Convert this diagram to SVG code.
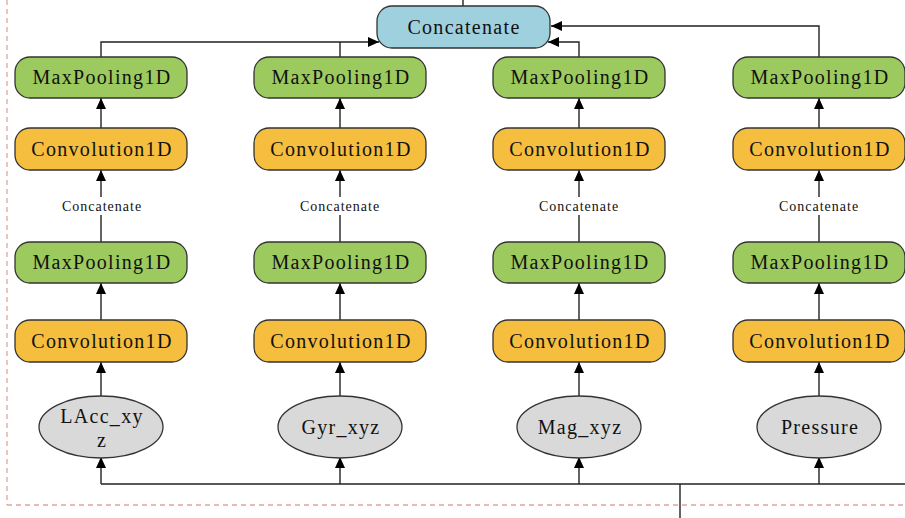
<svg xmlns="http://www.w3.org/2000/svg" width="905" height="518" viewBox="0 0 905 518">
  <defs>
    <marker id="arr" viewBox="0 0 11 10" refX="11" refY="5" markerWidth="11" markerHeight="10" markerUnits="userSpaceOnUse" orient="auto">
      <path d="M0,0 L11,5 L0,10 Z" fill="#000"/>
    </marker>
    <style>
      .box { stroke: #333; stroke-width: 1.3; }
      .pool { fill: #9cca5e; }
      .conv { fill: #f5be3e; }
      .cat { fill: #9fd0de; }
      .in { fill: #d9d9d9; stroke: #333; stroke-width: 1.3; }
      .lbl { font-family: "Liberation Serif", "Times New Roman", serif; font-size: 20px; letter-spacing: 1.3px; fill: #111; text-anchor: middle; }
      .small { font-family: "Liberation Serif", "Times New Roman", serif; font-size: 14px; letter-spacing: 1px; fill: #111; text-anchor: middle; }
      .wire { fill: none; stroke: #222; stroke-width: 1.4; }
      .frame { fill: none; stroke: #e4a3a3; stroke-width: 1.3; stroke-dasharray: 5 4; }
    </style>
  </defs>

  <!-- dashed frame -->
  <line class="frame" x1="7" y1="0" x2="7" y2="505"/>
  <line class="frame" x1="7" y1="505" x2="905" y2="505"/>

  <g id="connectors">
    <!-- feed line under the inputs -->
    <line class="wire" x1="101" y1="484" x2="905" y2="484"/>
    <line class="wire" x1="680" y1="484" x2="680" y2="518" stroke-width="2"/>
    <line class="wire" x1="463" y1="0" x2="463" y2="6"/>

    <!-- column 1 -->
    <line class="wire" x1="101" y1="484" x2="101" y2="457" marker-end="url(#arr)"/>
    <line class="wire" x1="101" y1="396" x2="101" y2="362" marker-end="url(#arr)"/>
    <line class="wire" x1="101" y1="320" x2="101" y2="283" marker-end="url(#arr)"/>
    <line class="wire" x1="101" y1="242" x2="101" y2="170" marker-end="url(#arr)"/>
    <line class="wire" x1="101" y1="128" x2="101" y2="98" marker-end="url(#arr)"/>
    <!-- column 2 -->
    <line class="wire" x1="340" y1="484" x2="340" y2="457" marker-end="url(#arr)"/>
    <line class="wire" x1="340" y1="396" x2="340" y2="362" marker-end="url(#arr)"/>
    <line class="wire" x1="340" y1="320" x2="340" y2="283" marker-end="url(#arr)"/>
    <line class="wire" x1="340" y1="242" x2="340" y2="170" marker-end="url(#arr)"/>
    <line class="wire" x1="340" y1="128" x2="340" y2="98" marker-end="url(#arr)"/>
    <!-- column 3 -->
    <line class="wire" x1="579" y1="484" x2="579" y2="457" marker-end="url(#arr)"/>
    <line class="wire" x1="579" y1="396" x2="579" y2="362" marker-end="url(#arr)"/>
    <line class="wire" x1="579" y1="320" x2="579" y2="283" marker-end="url(#arr)"/>
    <line class="wire" x1="579" y1="242" x2="579" y2="170" marker-end="url(#arr)"/>
    <line class="wire" x1="579" y1="128" x2="579" y2="98" marker-end="url(#arr)"/>
    <!-- column 4 -->
    <line class="wire" x1="819" y1="484" x2="819" y2="457" marker-end="url(#arr)"/>
    <line class="wire" x1="819" y1="396" x2="819" y2="362" marker-end="url(#arr)"/>
    <line class="wire" x1="819" y1="320" x2="819" y2="283" marker-end="url(#arr)"/>
    <line class="wire" x1="819" y1="242" x2="819" y2="170" marker-end="url(#arr)"/>
    <line class="wire" x1="819" y1="128" x2="819" y2="98" marker-end="url(#arr)"/>

    <!-- merge into the top concatenate -->
    <polyline class="wire" points="101,57 101,42 379,42" marker-end="url(#arr)"/>
    <line class="wire" x1="340" y1="57" x2="340" y2="42"/>
    <polyline class="wire" points="579,57 579,42 548,42" marker-end="url(#arr)"/>
    <polyline class="wire" points="819,57 819,26 551,26" marker-end="url(#arr)"/>

    <!-- inner concatenate labels -->
    <rect x="58" y="197" width="88" height="18" fill="#fff"/>
    <text class="small" x="102" y="211">Concatenate</text>
    <rect x="296" y="197" width="88" height="18" fill="#fff"/>
    <text class="small" x="340" y="211">Concatenate</text>
    <rect x="535" y="197" width="88" height="18" fill="#fff"/>
    <text class="small" x="579" y="211">Concatenate</text>
    <rect x="775" y="197" width="88" height="18" fill="#fff"/>
    <text class="small" x="819" y="211">Concatenate</text>
  </g>

  <g id="concat-top">
    <rect class="box cat" x="377" y="6" width="173" height="42" rx="15"/>
    <text class="lbl" x="464" y="34">Concatenate</text>
  </g>

  <!-- column 1 -->
  <g id="pool-1b"><rect class="box pool" x="15" y="57" width="172" height="41" rx="15"/><text class="lbl" x="102" y="84">MaxPooling1D</text></g>
  <g id="conv-1b"><rect class="box conv" x="15" y="128" width="172" height="42" rx="15"/><text class="lbl" x="102" y="156">Convolution1D</text></g>
  <g id="pool-1a"><rect class="box pool" x="15" y="242" width="172" height="41" rx="15"/><text class="lbl" x="102" y="269">MaxPooling1D</text></g>
  <g id="conv-1a"><rect class="box conv" x="15" y="320" width="172" height="42" rx="15"/><text class="lbl" x="102" y="348">Convolution1D</text></g>
  <g id="in-lacc"><ellipse class="in" cx="101" cy="427" rx="62" ry="31"/><text class="lbl" x="102" y="423">LAcc_xy</text><text class="lbl" x="102" y="447">z</text></g>

  <!-- column 2 -->
  <g id="pool-2b"><rect class="box pool" x="254" y="57" width="172" height="41" rx="15"/><text class="lbl" x="341" y="84">MaxPooling1D</text></g>
  <g id="conv-2b"><rect class="box conv" x="254" y="128" width="172" height="42" rx="15"/><text class="lbl" x="341" y="156">Convolution1D</text></g>
  <g id="pool-2a"><rect class="box pool" x="254" y="242" width="172" height="41" rx="15"/><text class="lbl" x="341" y="269">MaxPooling1D</text></g>
  <g id="conv-2a"><rect class="box conv" x="254" y="320" width="172" height="42" rx="15"/><text class="lbl" x="341" y="348">Convolution1D</text></g>
  <g id="in-gyr"><ellipse class="in" cx="340" cy="427" rx="62" ry="31"/><text class="lbl" x="341" y="434">Gyr_xyz</text></g>

  <!-- column 3 -->
  <g id="pool-3b"><rect class="box pool" x="493" y="57" width="172" height="41" rx="15"/><text class="lbl" x="580" y="84">MaxPooling1D</text></g>
  <g id="conv-3b"><rect class="box conv" x="493" y="128" width="172" height="42" rx="15"/><text class="lbl" x="580" y="156">Convolution1D</text></g>
  <g id="pool-3a"><rect class="box pool" x="493" y="242" width="172" height="41" rx="15"/><text class="lbl" x="580" y="269">MaxPooling1D</text></g>
  <g id="conv-3a"><rect class="box conv" x="493" y="320" width="172" height="42" rx="15"/><text class="lbl" x="580" y="348">Convolution1D</text></g>
  <g id="in-mag"><ellipse class="in" cx="579" cy="427" rx="62" ry="31"/><text class="lbl" x="580" y="434">Mag_xyz</text></g>

  <!-- column 4 -->
  <g id="pool-4b"><rect class="box pool" x="733" y="57" width="172" height="41" rx="15"/><text class="lbl" x="820" y="84">MaxPooling1D</text></g>
  <g id="conv-4b"><rect class="box conv" x="733" y="128" width="172" height="42" rx="15"/><text class="lbl" x="820" y="156">Convolution1D</text></g>
  <g id="pool-4a"><rect class="box pool" x="733" y="242" width="172" height="41" rx="15"/><text class="lbl" x="820" y="269">MaxPooling1D</text></g>
  <g id="conv-4a"><rect class="box conv" x="733" y="320" width="172" height="42" rx="15"/><text class="lbl" x="820" y="348">Convolution1D</text></g>
  <g id="in-pressure"><ellipse class="in" cx="819" cy="427" rx="62" ry="31"/><text class="lbl" x="820" y="434">Pressure</text></g>
</svg>
